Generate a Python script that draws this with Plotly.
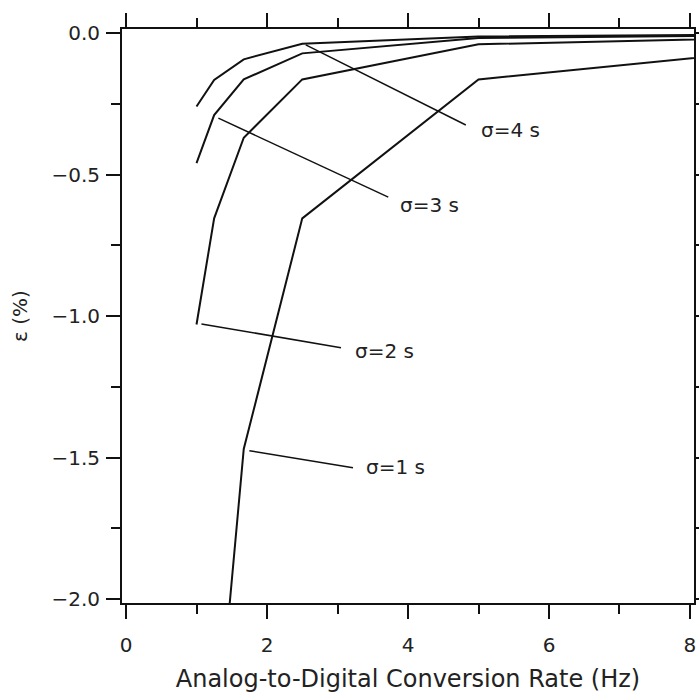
import plotly.graph_objects as go

# Conversion rates (Hz)
rate_hz = [1.0, 1.25, 1.67, 2.5, 5.0, 10.0]

# epsilon (%) for each sigma
eps_sigma1 = [None, -2.62, -1.47, -0.655, -0.164, -0.040]
eps_sigma2 = [-1.03, -0.655, -0.37, -0.164, -0.040, -0.012]
eps_sigma3 = [-0.46, -0.29, -0.164, -0.072, -0.018, -0.006]
eps_sigma4 = [-0.26, -0.166, -0.093, -0.038, -0.012, -0.004]

series = [eps_sigma1, eps_sigma2, eps_sigma3, eps_sigma4]

# Curve labels with leader lines (data coordinates)
label_text = ["σ=1 s", "σ=2 s", "σ=3 s", "σ=4 s"]
leader_x0 = [1.75, 1.07, 1.31, 2.55]
leader_y0 = [-1.476, -1.028, -0.301, -0.042]
leader_x1 = [3.22, 3.05, 3.72, 4.82]
leader_y1 = [-1.536, -1.112, -0.580, -0.325]
label_x = [3.38, 3.22, 3.86, 5.01]
label_y = [-1.532, -1.123, -0.609, -0.343]

x_ticks = [0, 2, 4, 6, 8]
y_ticks = [0.0, -0.5, -1.0, -1.5, -2.0]
y_ticklabels = ["0.0", "−0.5", "−1.0", "−1.5", "−2.0"]

FONT = "DejaVu Sans, Liberation Sans, sans-serif"
INK = "#111111"
TXT = "#222222"

fig = go.Figure()
for s in series:
    fig.add_trace(go.Scatter(x=rate_hz, y=s, mode="lines",
                             line=dict(color=INK, width=2),
                             showlegend=False, hoverinfo="skip"))

for i in range(len(label_text)):
    fig.add_shape(type="line", xref="x", yref="y",
                  x0=leader_x0[i], y0=leader_y0[i],
                  x1=leader_x1[i], y1=leader_y1[i],
                  line=dict(color=INK, width=1.5))
    fig.add_annotation(x=label_x[i], y=label_y[i], xref="x", yref="y",
                       text=label_text[i], showarrow=False,
                       xanchor="left", yanchor="middle",
                       font=dict(family=FONT, size=20, color=TXT))

axis_common = dict(
    showline=True, linecolor=INK, linewidth=2, mirror="ticks",
    ticks="outside", ticklen=14, tickwidth=2, tickcolor=INK,
    showgrid=False, zeroline=False,
    tickfont=dict(family=FONT, size=20, color=TXT),
)

fig.update_xaxes(
    range=[-0.057, 8.057],
    tickvals=x_ticks,
    ticklabelstandoff=9,
    minor=dict(dtick=1, tick0=0, ticklen=9, tickwidth=2, tickcolor=INK, ticks="outside"),
    title=dict(text="Analog-to-Digital Conversion Rate (Hz)",
               font=dict(family=FONT, size=24, color=TXT), standoff=14),
    **axis_common,
)
fig.update_yaxes(
    range=[-2.0141, 0.0141],
    tickvals=y_ticks, ticktext=y_ticklabels,
    ticklabelstandoff=2,
    minor=dict(dtick=0.25, tick0=0, ticklen=9, tickwidth=2, tickcolor=INK, ticks="outside"),
    title=dict(text="ε (%)", font=dict(family=FONT, size=20, color=TXT), standoff=18),
    **axis_common,
)

fig.update_layout(
    width=699, height=694,
    margin=dict(l=122, r=5, t=29, b=91, autoexpand=False),
    paper_bgcolor="white", plot_bgcolor="white",
)

fig.write_html("out.html")
